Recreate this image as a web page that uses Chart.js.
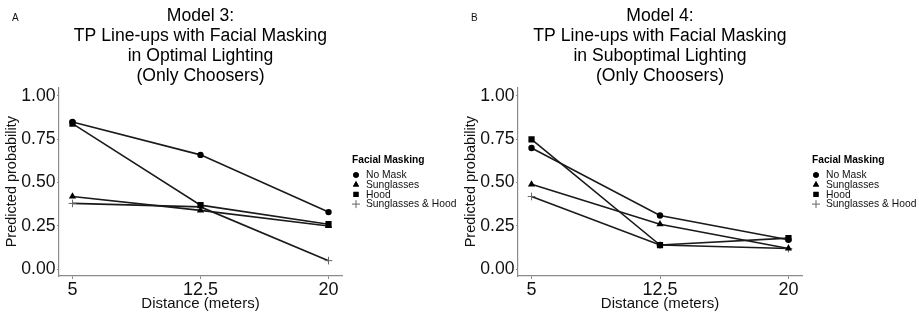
<!DOCTYPE html>
<html>
<head>
<meta charset="utf-8">
<script src="https://cdn.jsdelivr.net/npm/chart.js@4"></script>
<style>
  html, body { margin: 0; padding: 0; background: #fff; }
  #wrap { position: relative; width: 919px; height: 315px; display: flex; }
  .panel { position: relative; width: 459px; height: 315px; }
  .panel canvas { display: block; }
  .tag { position: absolute; left: 12px; top: 12px; font: 10px "Liberation Sans", Arial, sans-serif; color: #111; }
</style>
</head>
<body>
<div id="wrap">
  <div class="panel" style="width:459px"><div class="tag">A</div><canvas id="c3" width="459" height="315"></canvas></div>
  <div class="panel" style="width:460px"><div class="tag">B</div><canvas id="c4" width="460" height="315"></canvas></div>
</div>
<script>
// Shared axes / categories
const distances = [5, 12.5, 20];
const probTicks = [0, 0.25, 0.5, 0.75, 1];
const maskLabels = ['No Mask', 'Sunglasses', 'Hood', 'Sunglasses & Hood'];

// Model 3: optimal lighting
const m3NoMask     = [0.85, 0.66, 0.33];
const m3Sunglasses = [0.42, 0.34, 0.25];
const m3Hood       = [0.84, 0.37, 0.26];
const m3SunHood    = [0.38, 0.36, 0.05];

// Model 4: suboptimal lighting
const m4NoMask     = [0.70, 0.31, 0.17];
const m4Sunglasses = [0.49, 0.26, 0.12];
const m4Hood       = [0.75, 0.14, 0.18];
const m4SunHood    = [0.42, 0.14, 0.12];

const FONT = '"Liberation Sans", Arial, sans-serif';

// marker look per series, ggplot shapes 16/17/15/3
const markers = [
  { style: 'circle',   r: 3.2, legendR: 2.8, color: '#000', bw: 0 },
  { style: 'triangle', r: 4.2, legendR: 3.6, color: '#000', bw: 0 },
  { style: 'rect',     r: 4.4, legendR: 3.6, color: '#000', bw: 0 },
  { style: 'cross',    r: 3.8, legendR: 4.0, color: '#666', bw: 1 },
];

function series(label, values, m) {
  return {
    label,
    data: values.map((v, i) => ({ x: distances[i], y: v })),
    borderColor: '#1a1a1a',
    borderWidth: 1.6,
    pointStyle: m.style,
    pointRadius: m.r,
    pointBackgroundColor: m.color,
    pointBorderColor: m.color,
    pointBorderWidth: m.bw,
    tension: 0,
    fill: false,
  };
}

// ggplot-like legend drawn beside the panel
const sideLegend = {
  id: 'sideLegend',
  afterDraw(chart) {
    const { ctx, chartArea } = chart;
    const x0 = chartArea.right + 10;
    ctx.save();
    ctx.fillStyle = '#000';
    ctx.textBaseline = 'middle';
    ctx.textAlign = 'left';
    ctx.font = 'bold 10.2px ' + FONT;
    ctx.fillText('Facial Masking', x0, 160);
    ctx.font = '10.3px ' + FONT;
    chart.data.datasets.forEach((ds, i) => {
      const m = markers[i];
      const y = 175 + i * 9.7;
      ctx.fillStyle = m.color;
      ctx.strokeStyle = m.color;
      ctx.lineWidth = m.bw || 1;
      Chart.helpers.drawPoint(ctx, {
        pointStyle: m.style, radius: m.legendR, rotation: 0,
        borderWidth: m.bw,
      }, x0 + 4, y);
      if (m.style !== 'cross') ctx.fill();
      ctx.fillStyle = '#111';
      ctx.fillText(ds.label, x0 + 14, y + 0.5);
    });
    ctx.restore();
  }
};

function makePanel(canvas, titleLines, vals) {
  return new Chart(canvas.getContext('2d'), {
    type: 'line',
    data: {
      datasets: vals.map((v, i) => series(maskLabels[i], v, markers[i])),
    },
    options: {
      responsive: false,
      animation: false,
      layout: { padding: { left: 0, right: 117, top: 0, bottom: 0 } },
      plugins: {
        legend: { display: false },
        tooltip: { enabled: false },
        title: {
          display: true,
          fullSize: false,
          text: titleLines,
          color: '#000',
          font: { family: FONT, size: 17.6, weight: 'normal', lineHeight: 1.14 },
          padding: { top: 6, bottom: 1 },
        },
      },
      scales: {
        x: {
          type: 'linear',
          min: 4.21,
          max: 20.79,
          afterBuildTicks: s => { s.ticks = distances.map(v => ({ value: v })); },
          afterFit: s => { s.height = 39; },
          grid: { display: true, drawOnChartArea: false, color: '#8c8c8c', tickLength: 3, lineWidth: 1 },
          border: { display: true, color: '#8c8c8c', width: 1.2 },
          ticks: {
            color: '#111',
            padding: 0,
            font: { family: FONT, size: 18 },
            callback: v => String(v),
          },
          title: {
            display: true,
            text: 'Distance (meters)',
            color: '#111',
            font: { family: FONT, size: 15 },
            padding: { top: 0, bottom: 2 },
          },
        },
        y: {
          type: 'linear',
          min: -0.0386,
          max: 1.05,
          afterBuildTicks: s => { s.ticks = probTicks.map(v => ({ value: v })); },
          afterFit: s => { s.width = 59; },
          grid: { display: true, drawOnChartArea: false, color: '#8c8c8c', tickLength: 2, lineWidth: 1 },
          border: { display: true, color: '#8c8c8c', width: 1.2 },
          ticks: {
            color: '#111',
            padding: 1.5,
            font: { family: FONT, size: 17.6 },
            callback: v => v.toFixed(2),
          },
          title: {
            display: true,
            text: 'Predicted probability',
            color: '#111',
            font: { family: FONT, size: 14.5 },
            padding: { top: 3, bottom: 0 },
          },
        },
      },
    },
    plugins: [sideLegend],
  });
}

makePanel(document.getElementById('c3'),
  ['Model 3:', 'TP Line-ups with Facial Masking', 'in Optimal Lighting', '(Only Choosers)'],
  [m3NoMask, m3Sunglasses, m3Hood, m3SunHood]);

makePanel(document.getElementById('c4'),
  ['Model 4:', 'TP Line-ups with Facial Masking', 'in Suboptimal Lighting', '(Only Choosers)'],
  [m4NoMask, m4Sunglasses, m4Hood, m4SunHood]);
</script>
</body>
</html>
